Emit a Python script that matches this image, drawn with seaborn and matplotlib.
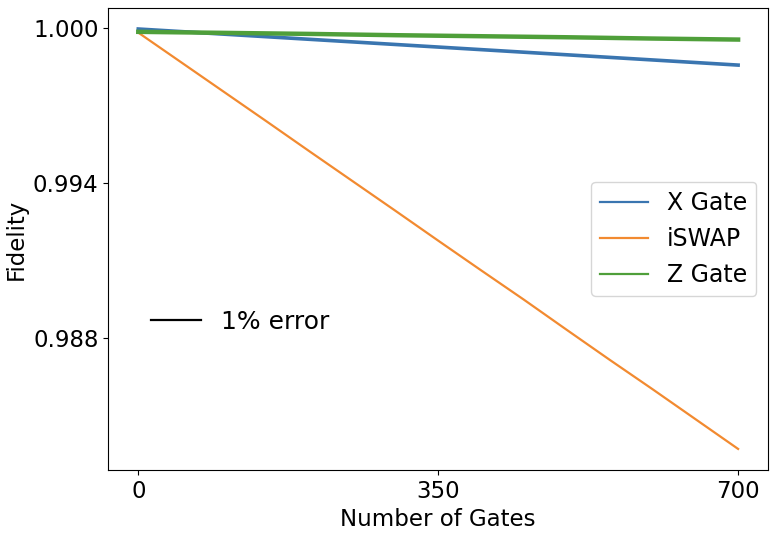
import pandas as pd
import seaborn as sns
import matplotlib.pyplot as plt
from matplotlib.lines import Line2D
from matplotlib.ticker import FormatStrFormatter

# ----------------------------- data -----------------------------
gates_xz = [0, 100, 200, 300, 400, 500, 600, 700]
x_gate = [0.99998, 0.99978, 0.99958, 0.99938, 0.99918, 0.99898, 0.99878, 0.99858]
z_gate = [0.99987, 0.99983, 0.99979, 0.99974, 0.99970, 0.99966, 0.99961, 0.99957]

gates_iswap = [0, 50, 100, 150, 200, 250, 300, 350, 400, 450, 500, 550, 600, 650, 700]
iswap = [0.99984, 0.99869, 0.99754, 0.99639, 0.99523, 0.99408, 0.99293, 0.99177,
         0.99062, 0.98948, 0.98831, 0.98715, 0.98601, 0.98485, 0.98369]

labels = ["X Gate", "iSWAP", "Z Gate"]
colors = ["#3a75b0", "#f28a30", "#4f9f3a"]

# make lists into one long dataframe
df = pd.concat([
    pd.DataFrame({"gates": gates_xz, "fidelity": x_gate, "gate": labels[0]}),
    pd.DataFrame({"gates": gates_iswap, "fidelity": iswap, "gate": labels[1]}),
    pd.DataFrame({"gates": gates_xz, "fidelity": z_gate, "gate": labels[2]}),
])

fig, ax = plt.subplots(figsize=(7.79, 5.34), dpi=100)
fig.subplots_adjust(left=0.139, right=0.986, top=0.985, bottom=0.12)

sns.lineplot(data=df, x="gates", y="fidelity", hue="gate", hue_order=labels,
             palette=colors, ax=ax, legend=False)
widths = [2.6, 1.6, 3.2]
for line, w in zip(ax.lines, widths):
    line.set_linewidth(w)

ax.set_xticks([0, 350, 700])
ax.set_yticks([0.988, 0.994, 1.000])
ax.yaxis.set_major_formatter(FormatStrFormatter("%.3f"))
ax.tick_params(labelsize=16.5)
ax.set_xlabel("Number of Gates", fontsize=16.5)
ax.set_ylabel("Fidelity", fontsize=16.5)

# gate legend
handles = [Line2D([], [], color=c, lw=1.6) for c in colors]
leg1 = ax.legend(handles, labels, loc="center right", fontsize=17)
ax.add_artist(leg1)

# second legend without frame
ax.legend([Line2D([], [], color="black", lw=1.6)], ["1% error"],
          loc="center left", bbox_to_anchor=(0.03, 0.32), frameon=False, fontsize=18)

plt.savefig("out.png", dpi=100)
